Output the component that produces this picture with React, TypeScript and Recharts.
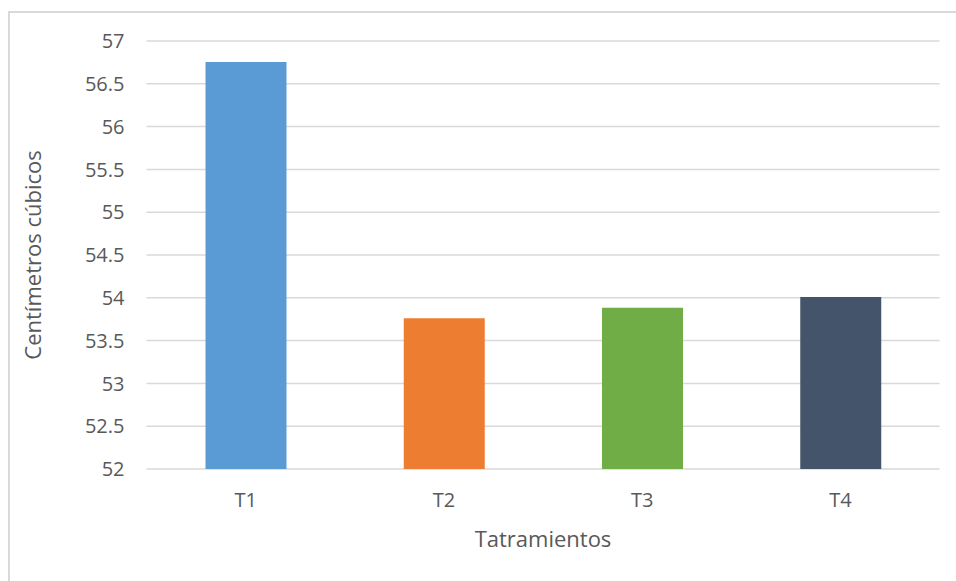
import React from 'react';
import { BarChart, Bar, XAxis, YAxis, CartesianGrid, Cell } from 'recharts';

const categories = ['T1', 'T2', 'T3', 'T4'];
const values = [56.755, 53.76, 53.885, 54.01];
const colors = ['#5B9BD5', '#ED7D31', '#70AD47', '#44546A'];
const yTicks = [52, 52.5, 53, 53.5, 54, 54.5, 55, 55.5, 56, 56.5, 57];

const data = categories.map((c, i) => ({ name: c, value: values[i] }));

const FONT = '"Open Sans", sans-serif';
const TEXT = '#595959';

export default function App() {
  return (
    <div
      style={{
        position: 'fixed',
        left: 0,
        top: 0,
        width: 956,
        height: 581,
        overflow: 'hidden',
        background: '#ffffff',
      }}
    >
      <div
        style={{
          position: 'absolute',
          left: 8,
          top: 11,
          width: 948,
          height: 2,
          background: '#d9d9d9',
        }}
      />
      <div
        style={{
          position: 'absolute',
          left: 8,
          top: 11,
          width: 2,
          height: 570,
          background: '#d9d9d9',
        }}
      />
      <div style={{ position: 'absolute', left: 8, top: 8 }}>
        <BarChart
          width={948}
          height={573}
          data={data}
          margin={{ top: 33, right: 16.5, left: 0, bottom: 32 }}
          barSize={81}
        >
          <CartesianGrid vertical={false} stroke="#d9d9d9" strokeWidth={1.5} />
          <XAxis
            dataKey="name"
            height={80}
            axisLine={false}
            tickLine={false}
            tickSize={0}
            tickMargin={24}
            tick={{ fill: TEXT, fontSize: 20, fontFamily: FONT }}
            label={{
              value: 'Tatramientos',
              position: 'insideBottom',
              offset: 2,
              fill: TEXT,
              fontSize: 22,
              fontFamily: FONT,
            }}
          />
          <YAxis
            width={138.5}
            domain={[52, 57]}
            ticks={yTicks}
            axisLine={false}
            tickLine={false}
            tickSize={0}
            tickMargin={22}
            interval={0}
            tick={{ fill: TEXT, fontSize: 20, fontFamily: FONT }}
            label={{
              value: 'Centímetros cúbicos',
              angle: -90,
              position: 'insideLeft',
              offset: 25,
              fill: TEXT,
              fontSize: 22,
              fontFamily: FONT,
              style: { textAnchor: 'middle' },
            }}
          />
          <Bar dataKey="value" isAnimationActive={false}>
            {data.map((d, i) => (
              <Cell key={d.name} fill={colors[i]} />
            ))}
          </Bar>
        </BarChart>
      </div>
    </div>
  );
}
